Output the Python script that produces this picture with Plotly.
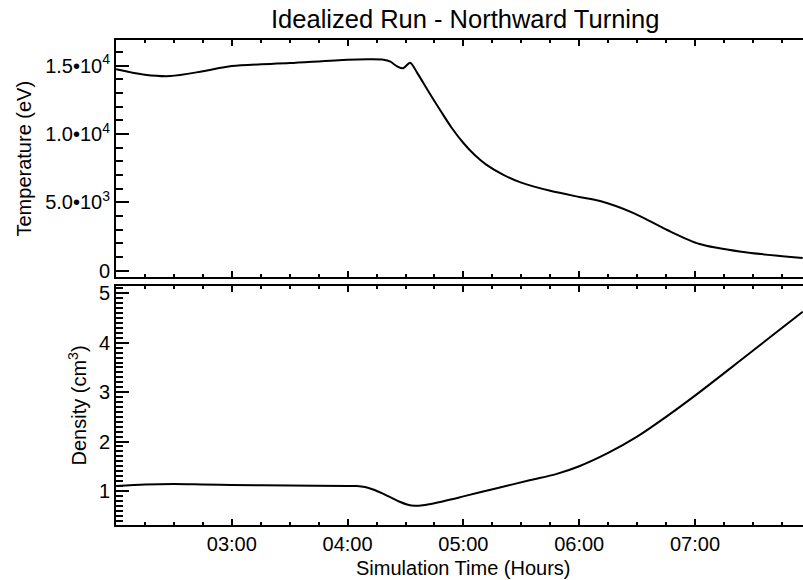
import plotly.graph_objects as go

# Simulation time in decimal hours
time_temp = [2.00, 2.25, 2.47, 2.75, 3.00, 3.50, 4.00, 4.20, 4.31, 4.37, 4.43, 4.48, 4.54,
             4.60, 4.70, 4.80, 4.90, 5.00, 5.10, 5.20, 5.35, 5.50, 5.75, 6.00, 6.18, 6.47,
             6.76, 7.04, 7.40, 7.93]
temperature_ev = [14750, 14350, 14250, 14600, 14980, 15200, 15450, 15480, 15450, 15300, 14950,
                  14820, 15230, 14500, 13100, 11750, 10450, 9350, 8450, 7750, 7000, 6450, 5850,
                  5400, 5100, 4220, 2980, 1955, 1391, 930]

time_dens = [2.00, 2.25, 2.50, 2.75, 3.00, 3.50, 4.00, 4.08, 4.15, 4.22, 4.30, 4.38, 4.45,
             4.52, 4.58, 4.65, 4.75, 4.90, 5.00, 5.28, 5.58, 5.80, 6.00, 6.25, 6.50, 6.75,
             7.00, 7.38, 7.93]
density_cm3 = [1.10, 1.13, 1.14, 1.13, 1.12, 1.11, 1.10, 1.10, 1.08, 1.03, 0.95, 0.86, 0.78,
               0.72, 0.70, 0.71, 0.75, 0.83, 0.89, 1.05, 1.22, 1.34, 1.50, 1.77, 2.10, 2.50,
               2.93, 3.62, 4.63]

hour_ticks = [3, 4, 5, 6, 7]
hour_labels = ["03:00", "04:00", "05:00", "06:00", "07:00"]
temp_ticks = [0, 5000, 10000, 15000]
temp_labels = ["0", "5.0\u202210<sup>3</sup>", "1.0\u202210<sup>4</sup>", "1.5\u202210<sup>4</sup>"]
dens_ticks = [1, 2, 3, 4, 5]
dens_labels = ["1", "2", "3", "4", "5"]

x_range = [2.0, 7.9326]
temp_range = [-460, 16890]
dens_range = [0.31, 5.15]

FONT = "Liberation Sans, Arial, Helvetica, sans-serif"
BLACK = "black"

fig = go.Figure()
fig.add_trace(go.Scatter(x=time_temp, y=temperature_ev, mode="lines",
                         line=dict(color=BLACK, width=2, shape="spline", smoothing=0.8),
                         xaxis="x2", yaxis="y", showlegend=False))
fig.add_trace(go.Scatter(x=time_dens, y=density_cm3, mode="lines",
                         line=dict(color=BLACK, width=2, shape="spline", smoothing=0.8),
                         xaxis="x", yaxis="y2", showlegend=False))

xcommon = dict(range=x_range, tickmode="array", tickvals=hour_ticks, ticktext=hour_labels,
               ticks="inside", ticklen=6, tickwidth=1.5, tickcolor=BLACK,
               showline=True, linecolor=BLACK, linewidth=2, mirror="ticks",
               showgrid=False, zeroline=False,
               minor=dict(tickmode="linear", tick0=2, dtick=0.25, ticks="inside",
                          ticklen=3, tickwidth=1.5, tickcolor=BLACK))

ycommon = dict(ticks="inside", ticklen=13, tickwidth=1.5, tickcolor=BLACK,
               showline=True, linecolor=BLACK, linewidth=2, mirror=False,
               showgrid=False, zeroline=False, tickmode="array")

top_dom = [0.5113, 1.0]
bot_dom = [0.0, 0.4928]

fig.update_layout(
    width=803, height=580,
    margin=dict(l=116, r=0, t=40, b=55),
    paper_bgcolor="white", plot_bgcolor="white",
    font=dict(family=FONT, size=20, color=BLACK),
    xaxis=dict(**xcommon, anchor="y2", domain=[0, 1],
               tickfont=dict(family=FONT, size=20, color=BLACK)),
    xaxis2=dict(**xcommon, anchor="y", domain=[0, 1], matches="x", showticklabels=False),
    yaxis=dict(**ycommon, domain=top_dom, anchor="x2", range=temp_range,
               tickvals=temp_ticks, ticktext=temp_labels,
               tickfont=dict(family=FONT, size=20, color=BLACK),
               minor=dict(tickmode="linear", tick0=0, dtick=1000, ticks="inside",
                          ticklen=7, tickwidth=1.5, tickcolor=BLACK)),
    yaxis2=dict(**ycommon, domain=bot_dom, anchor="x", range=dens_range,
                tickvals=dens_ticks, ticktext=dens_labels,
                tickfont=dict(family=FONT, size=20, color=BLACK),
                minor=dict(tickmode="linear", tick0=0, dtick=0.1, ticks="inside",
                           ticklen=7, tickwidth=1.5, tickcolor=BLACK)),
    # right-hand tick marks without an axis line
    yaxis3=dict(overlaying="y", side="right", anchor="x2", range=temp_range,
                tickmode="array", tickvals=temp_ticks, ticks="inside", ticklen=13,
                tickwidth=1.5, tickcolor=BLACK, showline=False, showticklabels=False,
                showgrid=False, zeroline=False),
    yaxis4=dict(overlaying="y2", side="right", anchor="x", range=dens_range,
                tickmode="array", tickvals=dens_ticks, ticks="inside", ticklen=13,
                tickwidth=1.5, tickcolor=BLACK, showline=False, showticklabels=False,
                showgrid=False, zeroline=False),
    annotations=[
        dict(text="Idealized Run - Northward Turning", xref="paper", yref="paper",
             x=(465 - 116) / 687, y=1.043, xanchor="center", yanchor="middle",
             showarrow=False, font=dict(family=FONT, size=25.5, color=BLACK)),
        dict(text="Temperature (eV)", xref="paper", yref="paper",
             x=(24 - 116) / 687, y=(top_dom[0] + top_dom[1]) / 2, textangle=-90,
             xanchor="center", yanchor="middle", showarrow=False,
             font=dict(family=FONT, size=20, color=BLACK)),
        dict(text="Density (cm<sup>3</sup>)", xref="paper", yref="paper",
             x=(77 - 116) / 687, y=(bot_dom[0] + bot_dom[1]) / 2, textangle=-90,
             xanchor="center", yanchor="middle", showarrow=False,
             font=dict(family=FONT, size=20, color=BLACK)),
        dict(text="Simulation Time (Hours)", xref="paper", yref="paper",
             x=(463.5 - 116) / 687, y=(525 - 568) / 485,
             xanchor="center", yanchor="middle", showarrow=False,
             font=dict(family=FONT, size=20, color=BLACK)),
    ],
)

fig.write_html("out.html")
